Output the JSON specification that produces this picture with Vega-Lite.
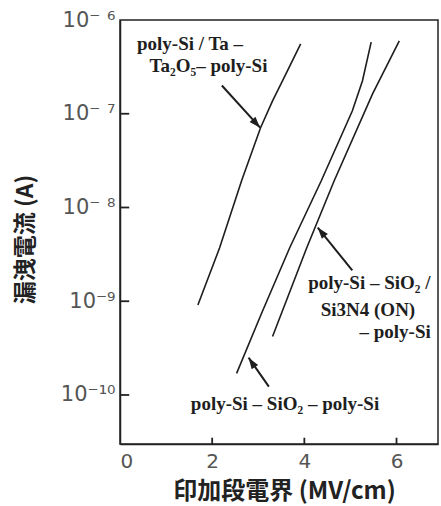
{
  "$schema": "https://vega.github.io/schema/vega-lite/v6.json",
  "width": 318,
  "height": 424,
  "autosize": {"type": "none"},
  "padding": {"left": 120, "top": 20, "right": 3, "bottom": 62},
  "background": "white",
  "config": {
    "view": {"stroke": "#222", "strokeWidth": 1.5},
    "axis": {
      "domainColor": "#222",
      "domainWidth": 1.5,
      "ticks": false,
      "grid": false,
      "labelFont": "DejaVu Sans",
      "labelColor": "#555",
      "titleColor": "#222",
      "titleFont": "Noto Sans CJK JP",
      "titleFontWeight": "bold"
    }
  },
  "datasets": {
    "curves": [
      {"series": "Ta2O5", "E": 1.69, "I": 9.1e-10},
      {"series": "Ta2O5", "E": 2.16, "I": 3.7e-9},
      {"series": "Ta2O5", "E": 2.64, "I": 1.94e-8},
      {"series": "Ta2O5", "E": 3.05, "I": 7.1e-8},
      {"series": "Ta2O5", "E": 3.31, "I": 1.37e-7},
      {"series": "Ta2O5", "E": 3.59, "I": 2.6e-7},
      {"series": "Ta2O5", "E": 3.92, "I": 5.56e-7},
      {"series": "SiO2", "E": 2.53, "I": 1.7e-10},
      {"series": "SiO2", "E": 3.07, "I": 7.4e-10},
      {"series": "SiO2", "E": 3.68, "I": 3.7e-9},
      {"series": "SiO2", "E": 4.37, "I": 1.94e-8},
      {"series": "SiO2", "E": 5.04, "I": 1.07e-7},
      {"series": "SiO2", "E": 5.26, "I": 2.24e-7},
      {"series": "SiO2", "E": 5.45, "I": 5.8e-7},
      {"series": "ON", "E": 3.31, "I": 4.2e-10},
      {"series": "ON", "E": 4.05, "I": 3.7e-9},
      {"series": "ON", "E": 4.65, "I": 1.94e-8},
      {"series": "ON", "E": 5.48, "I": 1.63e-7},
      {"series": "ON", "E": 6.06, "I": 5.98e-7}
    ],
    "arrows": [
      {"id": "a1", "x": 2.21, "y": 2.0e-7, "x2": 3.04, "y2": 7.1e-8},
      {"id": "a2", "x": 5.04, "y": 2.14e-9, "x2": 4.29, "y2": 6.1e-9},
      {"id": "a3", "x": 3.23, "y": 1.23e-10, "x2": 2.79, "y2": 2.5e-10}
    ],
    "labels": [
      {"text": "poly-Si / Ta –", "x": 1.52, "y": 5.55e-7},
      {"text": "Ta₂O₅– poly-Si", "x": 1.92, "y": 3.24e-7},
      {"text": "poly-Si – SiO₂ /", "x": 5.41, "y": 1.55e-9},
      {"text": "Si3N4 (ON)", "x": 5.38, "y": 8.0e-10},
      {"text": "– poly-Si", "x": 5.97, "y": 4.66e-10},
      {"text": "poly-Si – SiO₂ – poly-Si", "x": 3.58, "y": 8.0e-11}
    ],
    "tickmarks": [
      {"x": 0, "x2": 0.2, "y": 1e-10, "y2": 1e-10},
      {"x": 0, "x2": 0.2, "y": 1e-9, "y2": 1e-9},
      {"x": 0, "x2": 0.2, "y": 1e-8, "y2": 1e-8},
      {"x": 0, "x2": 0.2, "y": 1e-7, "y2": 1e-7},
      {"x": 2, "x2": 2, "y": 3.0e-11, "y2": 3.5e-11},
      {"x": 4, "x2": 4, "y": 3.0e-11, "y2": 3.5e-11},
      {"x": 6, "x2": 6, "y": 3.0e-11, "y2": 3.5e-11}
    ]
  },
  "layer": [
    {
      "data": {"name": "curves"},
      "mark": {"type": "line", "color": "#1e1e1e", "strokeWidth": 1.6},
      "encoding": {
        "x": {
          "field": "E",
          "type": "quantitative",
          "scale": {"domain": [0, 6.9], "nice": false, "zero": false},
          "axis": {
            "values": [0, 2, 4, 6],
            "labelPadding": 7,
            "labelFontSize": 20,
            "title": "印加段電界 (MV/cm)",
            "titleFontSize": 24,
            "titleX": 164,
            "titleY": 47,
            "titleBaseline": "middle",
            "titleAlign": "center"
          }
        },
        "y": {
          "field": "I",
          "type": "quantitative",
          "scale": {"type": "log", "domain": [3.0e-11, 1e-6], "nice": false},
          "axis": {
            "values": [1e-10, 1e-9, 1e-8, 1e-7, 1e-6],
            "labelPadding": 5,
            "labelFontSize": 21,
            "labelAlign": "right",
            "labelExpr": "'10' + (round(log(datum.value) / LN10) > -9 ? '⁻ ' : '⁻') + replace(replace(replace(replace(replace(replace('' + abs(round(log(datum.value) / LN10)), '6', '⁶'), '7', '⁷'), '8', '⁸'), '9', '⁹'), '1', '¹'), '0', '⁰')",
            "title": "漏洩電流 (A)",
            "titleFontSize": 23,
            "titleX": -95,
            "titleY": 219,
            "titleAngle": -90,
            "titleAlign": "center",
            "titleBaseline": "middle"
          }
        },
        "detail": {"field": "series"}
      }
    },
    {
      "data": {"name": "tickmarks"},
      "mark": {"type": "rule", "color": "#222", "strokeWidth": 1.8},
      "encoding": {
        "x": {"field": "x", "type": "quantitative"},
        "x2": {"field": "x2"},
        "y": {"field": "y", "type": "quantitative"},
        "y2": {"field": "y2"}
      }
    },
    {
      "data": {"name": "arrows"},
      "mark": {"type": "rule", "color": "#1e1e1e", "strokeWidth": 2},
      "encoding": {
        "x": {"field": "x", "type": "quantitative"},
        "y": {"field": "y", "type": "quantitative"},
        "x2": {"field": "x2"},
        "y2": {"field": "y2"}
      }
    },
    {
      "data": {"name": "arrows"},
      "transform": [{"filter": "datum.id === 'a1'"}],
      "mark": {"type": "point", "shape": "M0,0L0.55,1.6L-0.55,1.6Z", "size": 200, "filled": true, "color": "#1e1e1e", "opacity": 1, "angle": 138},
      "encoding": {
        "x": {"field": "x2", "type": "quantitative"},
        "y": {"field": "y2", "type": "quantitative"}
      }
    },
    {
      "data": {"name": "arrows"},
      "transform": [{"filter": "datum.id === 'a2'"}],
      "mark": {"type": "point", "shape": "M0,0L0.55,1.6L-0.55,1.6Z", "size": 200, "filled": true, "color": "#1e1e1e", "opacity": 1, "angle": 321},
      "encoding": {
        "x": {"field": "x2", "type": "quantitative"},
        "y": {"field": "y2", "type": "quantitative"}
      }
    },
    {
      "data": {"name": "arrows"},
      "transform": [{"filter": "datum.id === 'a3'"}],
      "mark": {"type": "point", "shape": "M0,0L0.55,1.6L-0.55,1.6Z", "size": 200, "filled": true, "color": "#1e1e1e", "opacity": 1, "angle": 326},
      "encoding": {
        "x": {"field": "x2", "type": "quantitative"},
        "y": {"field": "y2", "type": "quantitative"}
      }
    },
    {
      "data": {"name": "labels"},
      "mark": {"type": "text", "font": "Liberation Serif", "fontWeight": "bold", "fontSize": 19, "color": "#1e1e1e", "align": "center", "baseline": "middle"},
      "encoding": {
        "x": {"field": "x", "type": "quantitative"},
        "y": {"field": "y", "type": "quantitative"},
        "text": {"field": "text"}
      }
    }
  ]
}
